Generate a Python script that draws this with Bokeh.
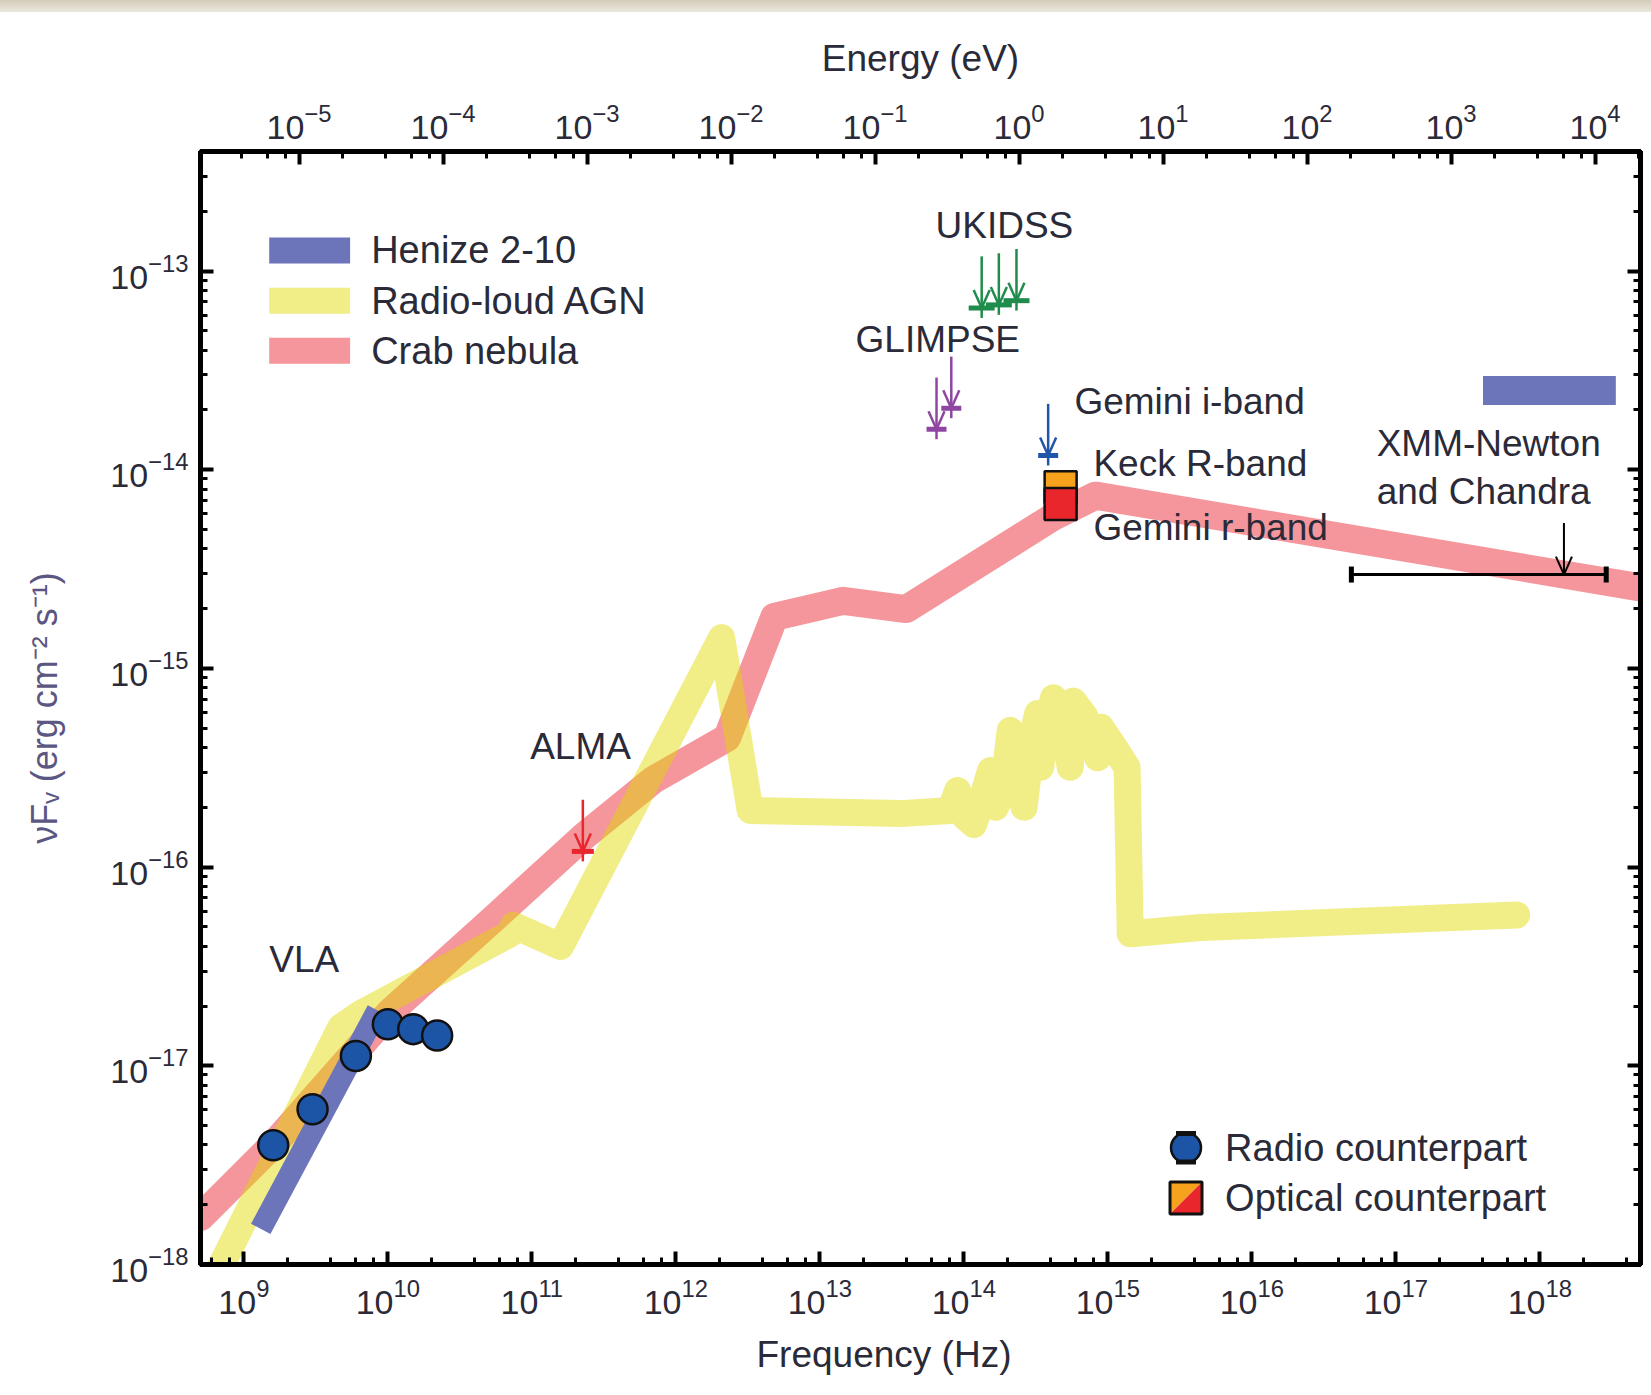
import numpy as np
from bokeh.plotting import figure
from bokeh.models import LogAxis, FixedTicker, Range1d, LogScale, Div, Title
from bokeh.core.properties import value
from bokeh.layouts import column
from bokeh.embed import file_html
from bokeh.resources import INLINE

# ---------------- data ----------------
crab_freq = [5.0e8, 1.63e9, 1.04e10, 5.58e10, 2.33e11, 6.98e11, 2.27e12, 4.83e12,
             1.45e13, 3.97e13, 4.19e14, 8.22e14, 4.95e18]
crab_flux = [1.73e-18, 4.07e-18, 1.87e-17, 5.61e-17, 1.44e-16, 2.75e-16, 4.48e-16, 1.82e-15,
             2.19e-15, 1.99e-15, 5.81e-15, 7.41e-15, 2.56e-15]

agn_freq = [5.45e8, 4.70e9, 6.47e9, 7.07e10, 7.43e10, 1.58e11, 2.08e12, 3.28e12, 3.65e13,
            8.05e13, 9.06e13, 1.02e14, 1.17e14, 1.33e14, 1.53e14, 1.66e14, 1.87e14, 2.10e14,
            2.32e14, 2.62e14, 2.99e14, 3.25e14, 3.42e14, 3.72e14, 4.19e14, 4.80e14, 5.48e14,
            5.77e14, 6.95e14, 8.49e14, 8.93e14, 1.06e15, 1.36e15, 1.43e15, 4.43e15, 6.90e17]
agn_flux = [6.93e-19, 1.56e-17, 1.83e-17, 4.62e-17, 5.09e-17, 3.99e-17, 1.43e-15, 1.93e-16,
            1.86e-16, 1.93e-16, 2.43e-16, 1.79e-16, 1.64e-16, 2.15e-16, 3.06e-16, 2.00e-16,
            2.43e-16, 4.88e-16, 2.75e-16, 2.00e-16, 4.48e-16, 5.93e-16, 3.18e-16, 5.06e-16,
            7.11e-16, 5.71e-16, 3.18e-16, 6.85e-16, 5.71e-16, 3.55e-16, 5.06e-16, 4.21e-16,
            3.18e-16, 4.62e-17, 4.97e-17, 5.75e-17]

henize_radio_freq = [1.31e9, 8.47e9]
henize_radio_flux = [1.51e-18, 1.90e-17]
henize_xray_freq = [4.03e17, 3.37e18]
henize_xray_flux = [2.51e-14, 2.51e-14]

radio_freq = [1.6e9, 3.0e9, 6.0e9, 1.0e10, 1.5e10, 2.2e10]
radio_flux = [3.98e-18, 6.04e-18, 1.12e-17, 1.62e-17, 1.53e-17, 1.42e-17]

keck_R_freq = [4.7e14]
keck_R_flux = [8.18e-15]
gemini_r_freq = [4.7e14]
gemini_r_flux = [6.73e-15]

ukidss_freq = [1.33e14, 1.75e14, 2.32e14]
ukidss_flux = [6.52e-14, 6.76e-14, 7.10e-14]
glimpse_freq = [6.46e13, 8.18e13]
glimpse_flux = [1.60e-14, 2.04e-14]
gemini_i_freq = [3.85e14]
gemini_i_flux = [1.18e-14]
alma_freq = [2.26e11]
alma_flux = [1.20e-16]
xmm_band = [4.91e16, 2.89e18]
xmm_freq = [1.47e18]
xmm_flux = [2.97e-15]

annotation_texts = ["UKIDSS", "GLIMPSE", "Gemini i-band", "Keck R-band", "Gemini r-band",
                    "XMM-Newton", "and Chandra", "ALMA", "VLA"]
legend_labels = ["Henize 2-10", "Radio-loud AGN", "Crab nebula"]
marker_legend_labels = ["Radio counterpart", "Optical counterpart"]

x_tick_exponents = list(range(9, 19))
y_tick_exponents = list(range(-18, -12))
e_tick_exponents = list(range(-5, 5))

H_EV = 4.135667e-15  # Planck constant, eV s

# ---------------- colours / styles ----------------
PINK = "#e8202a"
YELLOW = "#e1d900"
BAND_ALPHA = 0.47
HENIZE = "#6c75b9"
TXT = "#2a2a38"
FONT = "Liberation Sans"

X0, X1 = 5e8, 5e18
Y0, Y1 = 1e-18, 4e-13

p = figure(width=1651, height=1383, x_axis_type="log", y_axis_type="log",
           x_range=Range1d(X0, X1), y_range=Range1d(Y0, Y1),
           output_backend="svg", toolbar_location=None, title=None,
           min_border_left=200, min_border_right=11, min_border_top=139,
           min_border_bottom=131)
p.extra_x_ranges = {"energy": Range1d(X0 * H_EV, X1 * H_EV)}
p.extra_x_scales = {"energy": LogScale()}
p.grid.visible = False
p.outline_line_color = "black"
p.outline_line_width = 5
p.background_fill_color = "white"
p.border_fill_color = "white"

x_major = [10.0 ** k for k in x_tick_exponents]
x_minor = [m * 10.0 ** k for k in range(8, 19) for m in (2, 4, 6, 8)]
y_major = [10.0 ** k for k in y_tick_exponents]
y_minor = [m * 10.0 ** k for k in range(-19, -12) for m in range(2, 10)]
e_major = [10.0 ** k for k in e_tick_exponents]
e_minor = [m * 10.0 ** k for k in range(-6, 5) for m in (2, 4, 6, 8)]


def style_axis(ax, labels=True):
    ax.axis_line_width = 5
    ax.axis_line_color = "black"
    ax.major_tick_in = 13
    ax.major_tick_out = 0
    ax.minor_tick_in = 7
    ax.minor_tick_out = 0
    ax.major_tick_line_width = 4
    ax.minor_tick_line_width = 3
    ax.major_label_text_font = FONT
    ax.major_label_text_color = TXT
    ax.axis_label_text_font = FONT
    ax.axis_label_text_font_style = "normal"
    if labels:
        ax.major_label_text_font_size = "34px"
    else:
        ax.major_label_text_font_size = "1px"
        ax.major_label_text_alpha = 0
        ax.major_label_standoff = 0


bottom = p.xaxis[0]
bottom.ticker = FixedTicker(ticks=x_major, minor_ticks=x_minor)
style_axis(bottom)
bottom.major_label_standoff = 14

left = p.yaxis[0]
left.ticker = FixedTicker(ticks=y_major, minor_ticks=y_minor)
style_axis(left)
left.major_label_standoff = 12
left.axis_label = "\u03bdF\u1d65 (erg cm\u207b\u00b2 s\u207b\u00b9)"
left.axis_label_text_font_size = "36px"
left.axis_label_text_color = "#5b5682"
left.axis_label_standoff = 42

top = LogAxis(x_range_name="energy", ticker=FixedTicker(ticks=e_major, minor_ticks=e_minor))
style_axis(top)
top.major_label_standoff = 13
top.axis_label = "Energy (eV)"
top.axis_label_text_font_size = "37px"
top.axis_label_text_color = TXT
top.axis_label_standoff = 22
p.add_layout(top, "above")

right = LogAxis(ticker=FixedTicker(ticks=y_major, minor_ticks=y_minor))
style_axis(right, labels=False)
p.add_layout(right, "right")

p.add_layout(Title(text="Frequency (Hz)", align="left", offset=556, standoff=31,
                   text_font=FONT, text_font_size="37px", text_font_style="normal",
                   text_color=TXT), "below")

# ---------------- model curves ----------------
p.line(crab_freq, crab_flux, line_color=PINK, line_alpha=BAND_ALPHA, line_width=28,
       line_join="round", line_cap="round")
p.line(agn_freq, agn_flux, line_color=YELLOW, line_alpha=BAND_ALPHA, line_width=27,
       line_join="round", line_cap="round")
p.line(henize_radio_freq, henize_radio_flux, line_color=HENIZE, line_width=22, line_cap="butt")
p.line(henize_xray_freq, henize_xray_flux, line_color=HENIZE, line_width=29, line_cap="butt")

# ---------------- upper limits (arrows drawn with segments) ----------------
ARROW_DEX = 0.26      # shaft length (about 52 px)
TAIL_DEX = 0.05       # short stub below the bar
HEAD_X = 8 / 144.0    # arrow-head half width, in decades of x (px / px-per-decade)
HEAD_Y = 18 / 198.6   # arrow-head height, in decades of y


def arrows(freq, flux, color, width=2.5):
    fx = [float(v) for v in freq]
    fy = [float(v) for v in flux]
    p.segment(fx, [v * 10 ** ARROW_DEX for v in fy], fx, fy, line_color=color, line_width=width)
    for sgn in (-1, 1):
        p.segment(fx, fy, [v * 10 ** (sgn * HEAD_X) for v in fx], [v * 10 ** HEAD_Y for v in fy],
                  line_color=color, line_width=width)


def upper_limits(freq, flux, color, bar_size):
    fy = [float(v) for v in flux]
    arrows(freq, flux, color)
    p.segment(freq, fy, freq, [v * 10 ** -TAIL_DEX for v in fy], line_color=color, line_width=2.5)
    p.scatter(freq, fy, marker="dash", size=bar_size, line_color=color, line_width=5)


upper_limits(ukidss_freq, ukidss_flux, "#1f8c4c", 26)
upper_limits(glimpse_freq, glimpse_flux, "#8e46a2", 20)
upper_limits(gemini_i_freq, gemini_i_flux, "#2056a8", 20)
upper_limits(alma_freq, alma_flux, "#e8262d", 22)

# X-ray band limit
p.segment([xmm_band[0]], xmm_flux, [xmm_band[1]], xmm_flux, line_color="black", line_width=3)
p.scatter(xmm_band, xmm_flux * 2, marker="dash", angle=np.pi / 2, size=16,
          line_color="black", line_width=5)
arrows(xmm_freq, xmm_flux, "black", 2)

# ---------------- counterparts ----------------
p.scatter(radio_freq, radio_flux, marker="circle", size=30, fill_color="#1c55a5",
          line_color="#111111", line_width=2.5)
p.scatter(keck_R_freq, keck_R_flux, marker="square", size=32, fill_color="#f6a21d",
          line_color="#111111", line_width=2.5)
p.scatter(gemini_r_freq, gemini_r_flux, marker="square", size=32, fill_color="#e8262b",
          line_color="#111111", line_width=2.5)

# ---------------- top-left legend (drawn by hand) ----------------
sw_x0, sw_x1, txt_x = 1.50e9, 5.47e9, 7.66e9
sw_y = [1.27e-13, 7.10e-14, 3.97e-14]
p.segment([sw_x0], [sw_y[0]], [sw_x1], [sw_y[0]], line_color=HENIZE, line_width=26, line_cap="butt")
p.segment([sw_x0], [sw_y[1]], [sw_x1], [sw_y[1]], line_color=YELLOW, line_alpha=BAND_ALPHA,
          line_width=26, line_cap="butt")
p.segment([sw_x0], [sw_y[2]], [sw_x1], [sw_y[2]], line_color=PINK, line_alpha=BAND_ALPHA,
          line_width=26, line_cap="butt")

# ---------------- bottom-right legend ----------------
lx, ly_radio, ly_opt = 3.49e15, 3.87e-18, 2.16e-18
p.scatter([lx], [ly_radio], marker="circle", size=30, fill_color="#1c55a5",
          line_color="#111111", line_width=2.5)
p.scatter([lx, lx], [ly_radio * 10 ** 0.072, ly_radio * 10 ** -0.072], marker="dash",
          size=20, line_color="#111111", line_width=5)
dx, dy = 10 ** 0.111, 10 ** 0.0806
xa, xb = lx / dx, lx * dx
ya, yb = ly_opt / dy, ly_opt * dy
p.patch([xa, xa, xb], [ya, yb, yb], fill_color="#f6a21d", line_color=None)
p.patch([xa, xb, xb], [ya, ya, yb], fill_color="#e8262b", line_color=None)
p.scatter([lx], [ly_opt], marker="square", size=32, fill_alpha=0, line_color="#111111",
          line_width=3)

# ---------------- texts (text glyphs) ----------------
ann_x = [6.36e13, 1.77e13, 5.86e14, 7.94e14, 7.94e14, 7.36e16, 7.36e16, 9.73e10, 1.50e9]
ann_y = [1.69e-13, 4.51e-14, 2.20e-14, 1.07e-14, 5.14e-15, 1.36e-14, 7.78e-15, 4.06e-16, 3.44e-17]
p.text(x=ann_x, y=ann_y, text=annotation_texts, text_font=value(FONT),
       text_font_size=value("37px"), text_color=TXT, text_baseline="middle", text_align="left")
p.text(x=[txt_x] * 3, y=sw_y, text=legend_labels, text_font=value(FONT),
       text_font_size=value("38px"), text_color=TXT, text_baseline="middle", text_align="left")
p.text(x=[6.52e15, 6.52e15], y=[ly_radio, ly_opt], text=marker_legend_labels,
       text_font=value(FONT), text_font_size=value("38px"), text_color=TXT,
       text_baseline="middle", text_align="left")

strip = Div(text="", width=1651, height=12, margin=0,
            styles={"background": "linear-gradient(to bottom, #d3ccbb, #ebe7dc)"})
layout = column(strip, p, spacing=0)

open("out.html", "w").write(file_html(layout, INLINE))
